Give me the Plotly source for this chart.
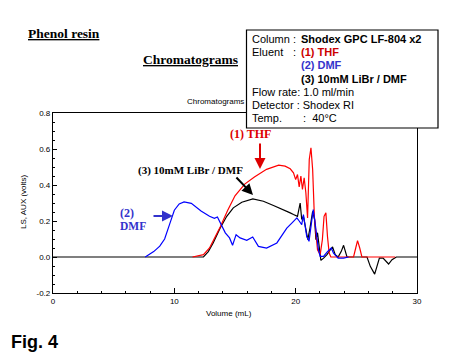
import plotly.graph_objects as go

# ---- data ----
thf_x = [11.5, 12.0, 12.4, 12.9, 13.3, 13.8, 14.4, 15.0, 15.8, 16.6, 17.6, 18.6, 19.13, 19.55,
         19.82, 20.0, 20.15, 20.29, 20.43, 20.56, 20.7, 20.84, 20.98, 21.12, 21.26, 21.4, 21.54,
         21.67, 21.8, 22.02, 22.2, 22.34, 22.49, 22.62, 22.76, 22.9, 24.77, 24.95, 25.1, 25.28,
         25.46, 28.2]
thf_y = [0.0, 0.005, 0.013, 0.05, 0.1, 0.17, 0.26, 0.34, 0.405, 0.445, 0.487, 0.51, 0.505, 0.49,
         0.468, 0.43, 0.458, 0.39, 0.449, 0.375, 0.44, 0.357, 0.217, 0.542, 0.607, 0.486, 0.226,
         0.115, 0.04, 0.013, 0.096, 0.226, 0.245, 0.115, 0.022, 0.0, 0.0, 0.05, 0.091, 0.05,
         0.0, 0.0]

dmf_x = [7.6, 8.3, 8.8, 9.2, 9.6, 10.0, 10.4, 10.8, 11.4, 12.2, 12.9, 13.3, 13.55, 13.8, 14.2,
         14.55, 14.8, 15.09, 15.42, 15.97, 16.46, 16.93, 17.6, 18.45, 19.27, 19.7, 20.1, 20.29,
         20.5, 20.64, 20.77, 20.91, 21.1, 21.32, 21.45, 21.6, 21.75, 21.88, 22.02, 22.3, 22.62,
         22.93, 23.12, 23.5, 23.95, 24.36]
dmf_y = [0.0, 0.03, 0.06, 0.1, 0.18, 0.26, 0.295, 0.306, 0.298, 0.256, 0.226, 0.215, 0.222,
         0.185, 0.134, 0.106, 0.065, 0.124, 0.106, 0.093, 0.111, 0.059, 0.05, 0.078, 0.16, 0.19,
         0.217, 0.2, 0.18, 0.236, 0.17, 0.115, 0.087, 0.208, 0.264, 0.19, 0.096, 0.04, 0.003,
         0.003, 0.03, 0.05, 0.022, -0.006, -0.006, 0.0]

libr_x = [0, 12.4, 12.8, 13.2, 13.77, 14.32, 14.86, 15.56, 16.47, 17.34, 18.17, 19.0, 19.55,
          19.82, 20.15, 20.37, 20.5, 20.64, 20.84, 21.0, 21.18, 21.4, 21.56, 21.67, 21.8, 21.94,
          22.08, 22.3, 22.58, 22.85, 23.04, 23.26, 23.5, 23.75, 23.95, 24.23, 25.88, 26.15,
          26.51, 26.7, 26.9, 27.2, 27.45, 27.66, 27.94, 28.3, 30]
libr_y = [0, 0.0, 0.03, 0.078, 0.16, 0.226, 0.273, 0.304, 0.323, 0.31, 0.286, 0.264, 0.245,
          0.236, 0.226, 0.3, 0.208, 0.226, 0.152, 0.096, 0.16, 0.254, 0.208, 0.096, 0.135, 0.04,
          -0.019, -0.006, 0.013, 0.04, 0.056, 0.013, 0.0, 0.03, 0.065, 0.0, 0.0, -0.052, -0.095,
          -0.052, -0.006, -0.006, -0.025, -0.039, -0.015, 0.0, 0.0]

x_ticks = [0, 10, 20, 30]
y_ticks = [-0.2, 0.0, 0.2, 0.4, 0.6, 0.8]

W, H = 450, 360
L, R, T, B = 53, 417, 113, 293


def px(x):
    return (x - L) / (R - L)


def py(y):
    return (B - y) / (B - T)


SERIF = "Liberation Serif, Times New Roman, serif"
SANS = "Liberation Sans, Arial, sans-serif"
RED = "#dd0000"
BLUE = "#3333cc"

fig = go.Figure()
fig.add_trace(go.Scatter(x=libr_x, y=libr_y, mode="lines", line=dict(color="black", width=1.2),
                         name="(3) 10mM LiBr / DMF"))
fig.add_trace(go.Scatter(x=thf_x, y=thf_y, mode="lines", line=dict(color="#ff0000", width=1.2),
                         name="(1) THF"))
fig.add_trace(go.Scatter(x=dmf_x, y=dmf_y, mode="lines", line=dict(color="#0000ff", width=1.2),
                         name="(2) DMF"))

ann = []


def text(x, y, t, size, color="black", family=SANS, xanchor="left", angle=0):
    ann.append(dict(x=px(x), y=py(y), xref="paper", yref="paper", text=t, showarrow=False,
                    xanchor=xanchor, yanchor="middle", textangle=angle,
                    font=dict(size=size, color=color, family=family)))


def arrow(x0, y0, x1, y1, color, width=2):
    ann.append(dict(x=px(x1), y=py(y1), xref="paper", yref="paper", ax=x0 - x1, ay=y0 - y1,
                    axref="pixel", ayref="pixel", text="", showarrow=True, arrowhead=2,
                    arrowsize=1.1, arrowwidth=width, arrowcolor=color))


text(26, 33, "<b><u>Phenol resin</u></b>", 13.5, family=SERIF)
text(141, 60, "<b><u>Chromatograms</u></b>", 13.5, family=SERIF)
text(185, 101, "Chromatograms", 8)

# info box text
text(250, 39, "Column", 11)
text(291, 39, ":", 11)
text(299, 39, "<b>Shodex GPC LF-804 x2</b>", 11)
text(250, 52, "Eluent", 11)
text(291, 52, ":", 11)
text(299, 52, "<b>(1) THF</b>", 11, color="#cc0000")
text(299, 65, "<b>(2) DMF</b>", 11, color=BLUE)
text(299, 79, "<b>(3) 10mM LiBr / DMF</b>", 11)
text(250, 92, "Flow rate: 1.0 ml/min", 11)
text(250, 105, "Detector : Shodex RI", 11)
text(250, 118, "Temp.", 11)
text(301, 118, ":  40°C", 11)

# curve labels
text(228, 134, "<b>(1) THF</b>", 12, color=RED, family=SERIF)
arrow(260, 142, 260, 169, RED)
text(136, 170, "<b>(3) 10mM LiBr / DMF</b>", 11, family=SERIF)
arrow(235, 176, 253, 195, "black")
text(118, 213, "<b>(2)</b>", 12, color=BLUE, family=SERIF)
text(118, 226, "<b>DMF</b>", 11.5, color=BLUE, family=SERIF)
arrow(152, 216, 173, 216, BLUE)

# axis titles
text(229, 313, "Volume (mL)", 8, xanchor="center")
text(23, 202, "LS, AUX (volts)", 8, xanchor="center", angle=-90)

text(9, 342, "<b>Fig. 4</b>", 18)

fig.update_layout(
    width=W, height=H,
    margin=dict(l=L, r=W - R, t=T, b=H - B, pad=0),
    paper_bgcolor="white", plot_bgcolor="white",
    showlegend=False,
    annotations=ann,
    shapes=[dict(type="rect", xref="paper", yref="paper", x0=px(246.5), x1=px(438),
                 y0=py(128), y1=py(30), fillcolor="white", line=dict(color="black", width=1.2),
                 layer="above")],
    xaxis=dict(range=[0, 30], tickvals=x_ticks, ticktext=[str(v) for v in x_ticks],
               ticks="inside", ticklen=5, tickcolor="black",
               minor=dict(dtick=2, ticks="inside", ticklen=2, tickcolor="black"),
               showline=True, linecolor="black", linewidth=1.2, mirror=True,
               showgrid=False, zeroline=False,
               tickfont=dict(size=8, family=SANS, color="black")),
    yaxis=dict(range=[-0.2, 0.8], tickvals=y_ticks, ticktext=[f"{v:.1f}" for v in y_ticks],
               ticks="inside", ticklen=4, tickcolor="black",
               minor=dict(dtick=0.05, ticks="inside", ticklen=2, tickcolor="black"),
               showline=True, linecolor="black", linewidth=1.2, mirror=True,
               showgrid=False, zeroline=False,
               tickfont=dict(size=8, family=SANS, color="black")),
)

fig.write_html("out.html", config={"displayModeBar": False},
               post_script="document.body.style.margin='0px';document.body.style.overflow='hidden';")
